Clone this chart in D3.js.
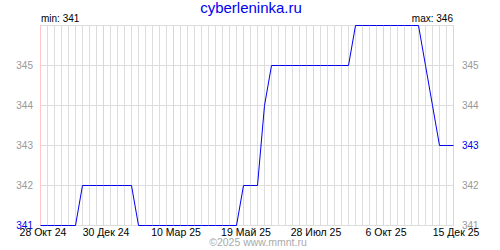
<!DOCTYPE html>
<meta charset="utf-8">
<style>
body { margin: 0; background: #fff; }
text { font-family: "Liberation Sans", Arial, sans-serif; }
</style>
<svg width="500" height="250"></svg>
<script src="https://cdn.jsdelivr.net/npm/d3@7"></script>
<script>

// weekly values, starting Monday 28 Oct 2024
var startDate = "2024-10-28";
var weekly = [
  341, 341, 341, 341, 341, 341,
  342, 342, 342, 342, 342, 342, 342, 342,
  341, 341, 341, 341, 341, 341, 341, 341, 341, 341, 341, 341, 341, 341, 341,
  342, 342, 342,
  344,
  345, 345, 345, 345, 345, 345, 345, 345, 345, 345, 345, 345,
  346, 346, 346, 346, 346, 346, 346, 346, 346, 346,
  345, 344, 343, 343, 343
];
var tickDates = ["2024-10-28", "2024-12-30", "2025-03-10", "2025-05-19", "2025-07-28", "2025-10-06", "2025-12-15"];
var yTicks = [341, 342, 343, 344, 345, 346];
var months = ["Янв", "Фев", "Мар", "Апр", "Май", "Июн", "Июл", "Авг", "Сен", "Окт", "Ноя", "Дек"];

var svg = d3.select("svg");
var parse = d3.utcParse("%Y-%m-%d");
var t0 = parse(startDate);

var data = weekly.map(function(v, i) {
  return { date: d3.utcDay.offset(t0, i * 7), value: v };
});
var t1 = data[data.length - 1].date;

var x = d3.scaleUtc().domain([t0, t1]).range([40, 453]);
var y = d3.scaleLinear().domain([341, 346]).range([225, 25]);

var g = svg.append("g").attr("transform", "translate(0.5,0.5)");

// horizontal grid
g.selectAll(".hgrid")
    .data(yTicks)
  .enter().append("line")
    .attr("x1", x(t0)).attr("x2", x(t1))
    .attr("y1", y).attr("y2", y)
    .attr("stroke", "#dddddd");

// weekly vertical grid
var ticks = tickDates.map(parse);
g.selectAll(".vgrid")
    .data(data.map(function(d) { return d.date; }))
  .enter().append("line")
    .attr("x1", x).attr("x2", x)
    .attr("y1", y(346)).attr("y2", y(341))
    .attr("stroke", "#dddddd");

g.selectAll(".vred")
    .data(ticks)
  .enter().append("line")
    .attr("x1", x).attr("x2", x)
    .attr("y1", y(346)).attr("y2", y(341))
    .attr("stroke", "#ffc4c4");

// series
var line = d3.line()
    .x(function(d) { return x(d.date); })
    .y(function(d) { return y(d.value); });

g.append("path")
    .datum(data)
    .attr("fill", "none")
    .attr("stroke", "#0000ee")
    .attr("stroke-width", 1)
    .attr("d", line);

var minV = d3.min(weekly), maxV = d3.max(weekly), lastV = weekly[weekly.length - 1];

// y labels
svg.selectAll(".yl")
    .data(yTicks.filter(function(v) { return v < 346; }))
  .enter().append("text")
    .attr("x", 33).attr("y", function(v) { return y(v) + 3.5; })
    .attr("text-anchor", "end")
    .attr("font-size", 10)
    .attr("fill", function(v) { return v === minV ? "#0000ee" : "#999999"; })
    .text(function(v) { return v; });

svg.selectAll(".yr")
    .data(yTicks.filter(function(v) { return v < 346; }))
  .enter().append("text")
    .attr("x", 462).attr("y", function(v) { return y(v) + 3.5; })
    .attr("font-size", 10)
    .attr("fill", function(v) { return v === lastV ? "#0000ee" : "#999999"; })
    .text(function(v) { return v; });

// x labels
svg.selectAll(".xl")
    .data(ticks)
  .enter().append("text")
    .attr("x", function(d) { return x(d) + 3; })
    .attr("y", 236)
    .attr("text-anchor", "middle")
    .attr("font-size", 10.5)
    .attr("fill", "#000")
    .text(function(d) {
      return d.getUTCDate() + " " + months[d.getUTCMonth()] + " " + String(d.getUTCFullYear()).slice(2);
    });

svg.append("text")
    .attr("x", 41).attr("y", 22)
    .attr("font-size", 10)
    .text("min: " + minV);

svg.append("text")
    .attr("x", 453).attr("y", 22)
    .attr("text-anchor", "end")
    .attr("font-size", 10)
    .text("max: " + maxV);

svg.append("text")
    .attr("x", 251).attr("y", 13)
    .attr("text-anchor", "middle")
    .attr("font-size", 15)
    .attr("fill", "#0000ee")
    .text("cyberleninka.ru");

svg.append("text")
    .attr("x", 258).attr("y", 246)
    .attr("text-anchor", "middle")
    .attr("font-size", 10.5)
    .attr("fill", "#aaaaaa")
    .text("©2025 www.mmnt.ru");

</script>
